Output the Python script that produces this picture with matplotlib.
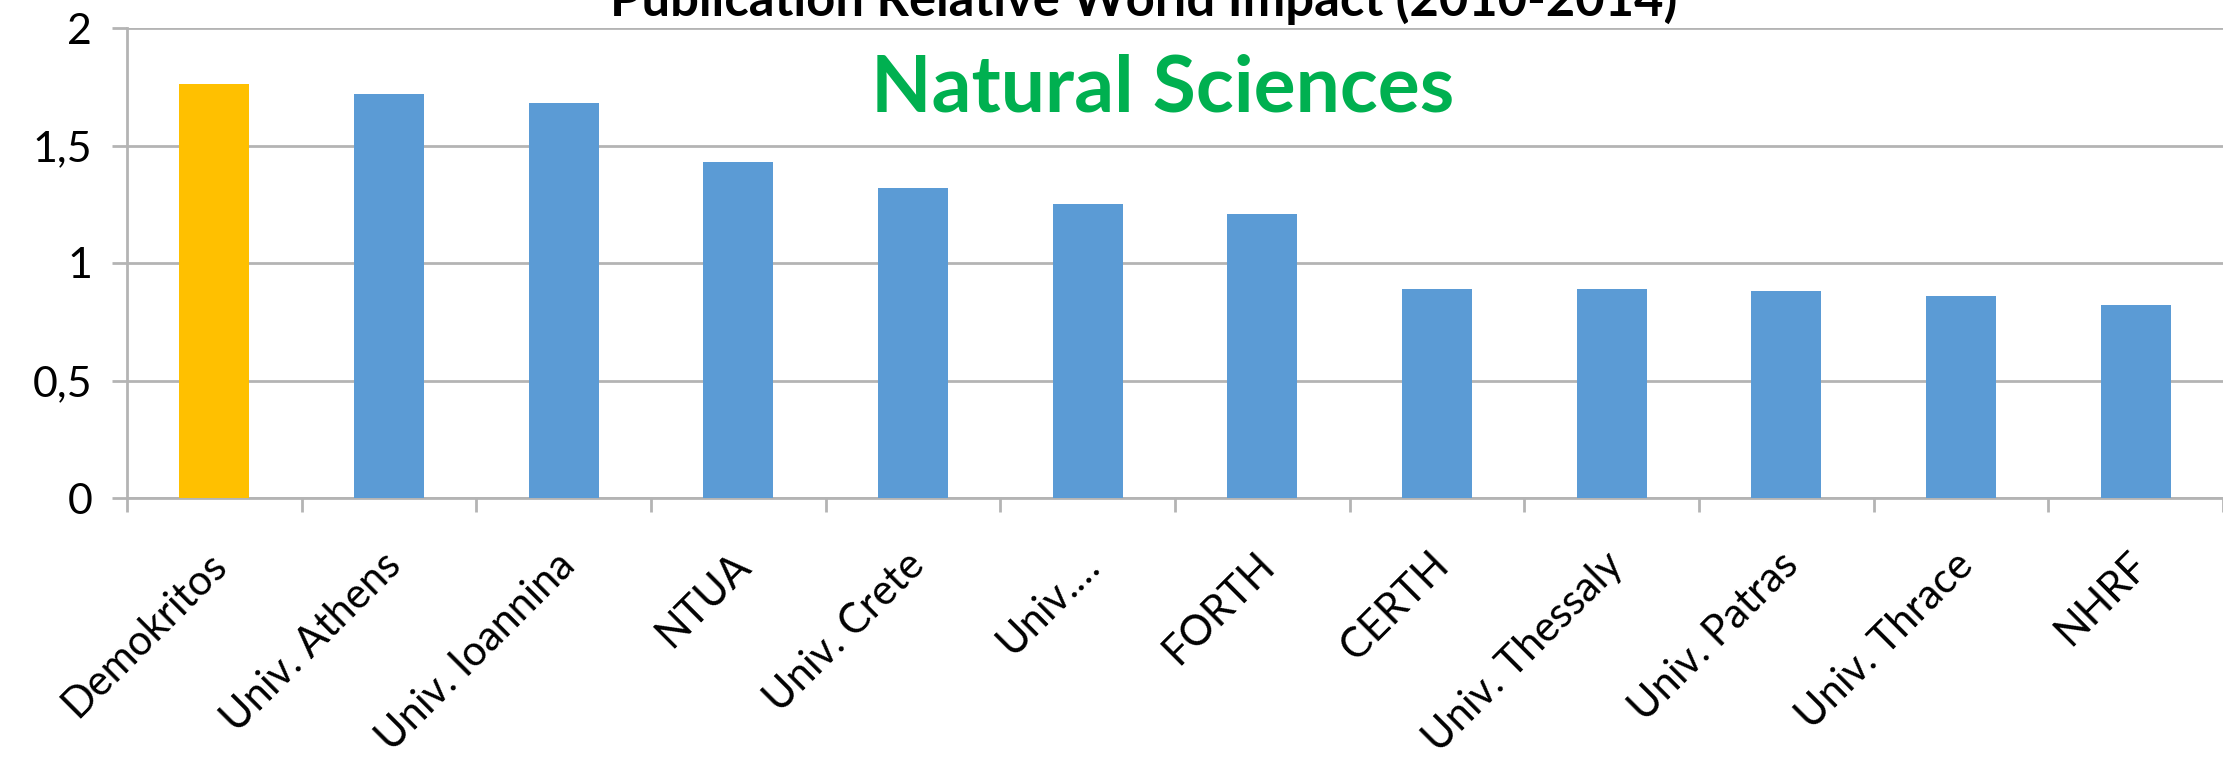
import matplotlib
matplotlib.use("Agg")
import matplotlib.pyplot as plt
import numpy as np

plt.rcParams["font.family"] = ["Lato", "DejaVu Sans"]

# data
institutions = ["Demokritos", "Univ. Athens", "Univ. Ioannina", "NTUA", "Univ. Crete",
                "Univ.…", "FORTH", "CERTH", "Univ. Thessaly", "Univ. Patras",
                "Univ. Thrace", "NHRF"]
impact = [1.76, 1.72, 1.68, 1.43, 1.32, 1.25, 1.21, 0.89, 0.89, 0.88, 0.86, 0.82]
y_ticks = [0, 0.5, 1, 1.5, 2]
y_tick_labels = ["0", "0,5", "1", "1,5", "2"]

highlight = "#FFC000"
base = "#5B9BD5"
grid_col = "#B4B4B4"

W, H = 2223, 757
fig = plt.figure(figsize=(W / 100, H / 100), dpi=100)
ax = fig.add_axes([127 / W, (H - 498) / H, 1 - 127 / W, 470 / H])

x = np.arange(len(institutions))
colors = [highlight] + [base] * (len(institutions) - 1)
ax.bar(x, impact, width=0.40, color=colors, zorder=3)

ax.set_ylim(0, 2)
ax.set_xlim(-0.5, 11.42)
ax.set_yticks(y_ticks)
ax.set_yticklabels(y_tick_labels, fontsize=31)
ax.yaxis.grid(True, color=grid_col, linewidth=2, zorder=0)
ax.tick_params(axis="y", length=11, width=2, color=grid_col, pad=14)

# category ticks sit between bars
ax.set_xticks(np.arange(-0.5, len(institutions), 1))
ax.set_xticklabels([])
ax.tick_params(axis="x", length=10, width=2, color=grid_col)
for xi, name in zip(x, institutions):
    ax.annotate(name, xy=(xi, 0), xytext=(4, -44), textcoords="offset points",
                rotation=45, ha="right", va="center", rotation_mode="anchor",
                fontsize=30, annotation_clip=False)

for s in ["top", "right"]:
    ax.spines[s].set_visible(False)
for s in ["left", "bottom"]:
    ax.spines[s].set_color(grid_col)
    ax.spines[s].set_linewidth(2)

fig.text(1144 / W, 1 - 16 / H, "Publication Relative World Impact (2010-2014)",
         ha="center", va="baseline", fontsize=36.5, fontweight="bold")
fig.text(1163 / W, 1 - 112 / H, "Natural Sciences", ha="center", va="baseline",
         fontsize=56.5, fontweight="bold", color="#00B050")

fig.savefig("out.png", dpi=100)
